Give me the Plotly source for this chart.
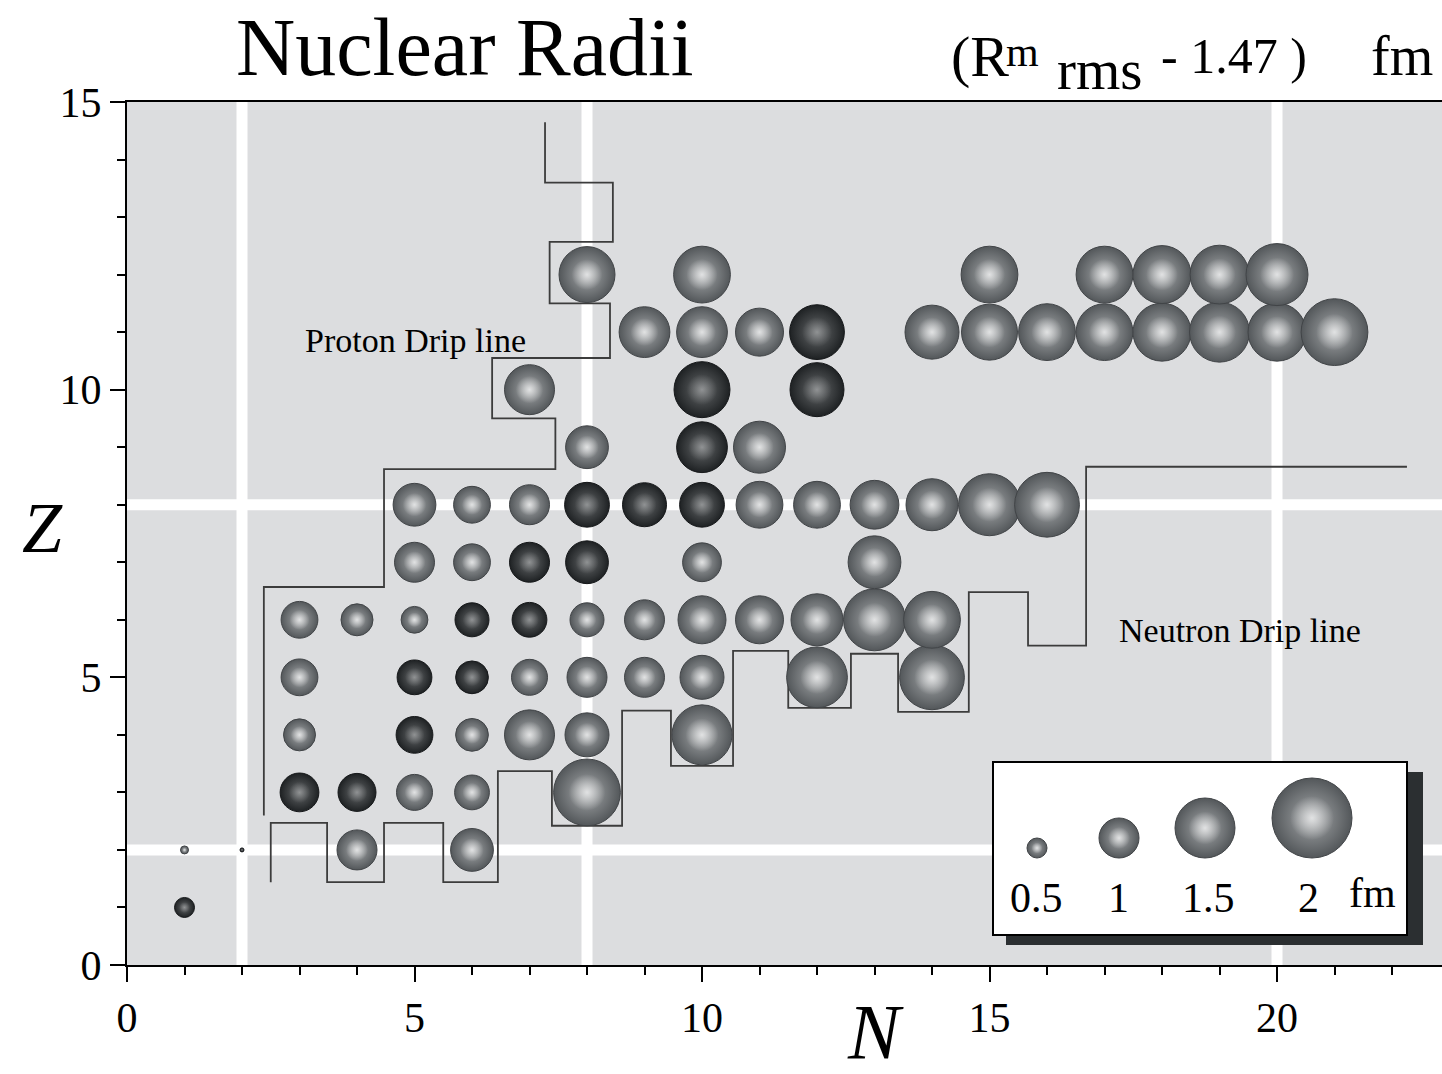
import plotly.graph_objects as go

# ---------------- data ----------------
# Each nuclide: neutron number N, proton number Z, (R_rms^m - 1.47) in fm, stable (dark) flag
N_VALS = [1, 1, 2, 4, 6,
          3, 4, 5, 6, 8,
          3, 5, 6, 7, 8, 10,
          3, 5, 6, 7, 8, 9, 10, 12, 14,
          3, 4, 5, 6, 7, 8, 9, 10, 11, 12, 13, 14,
          5, 6, 7, 8, 10, 13,
          5, 6, 7, 8, 9, 10, 11, 12, 13, 14, 15, 16,
          8, 10, 11,
          7, 10, 12,
          9, 10, 11, 12, 14, 15, 16, 17, 18, 19, 20, 21,
          8, 10, 15, 17, 18, 19, 20]
Z_VALS = [1, 2, 2, 2, 2,
          3, 3, 3, 3, 3,
          4, 4, 4, 4, 4, 4,
          5, 5, 5, 5, 5, 5, 5, 5, 5,
          6, 6, 6, 6, 6, 6, 6, 6, 6, 6, 6, 6,
          7, 7, 7, 7, 7, 7,
          8, 8, 8, 8, 8, 8, 8, 8, 8, 8, 8, 8,
          9, 9, 9,
          10, 10, 10,
          11, 11, 11, 11, 11, 11, 11, 11, 11, 11, 11, 11,
          12, 12, 12, 12, 12, 12, 12]
RADIUS = [0.5, 0.2, 0.1, 1.0, 1.07,
          0.97, 0.95, 0.9, 0.87, 1.67,
          0.8, 0.92, 0.82, 1.25, 1.1, 1.5,
          0.92, 0.87, 0.82, 0.9, 1.0, 1.0, 1.1, 1.52, 1.62,
          0.92, 0.8, 0.67, 0.85, 0.87, 0.85, 1.0, 1.2, 1.2, 1.3, 1.55, 1.42,
          1.0, 0.92, 1.0, 1.07, 0.97, 1.32,
          1.07, 0.92, 1.0, 1.12, 1.1, 1.12, 1.17, 1.17, 1.22, 1.3, 1.55, 1.62,
          1.07, 1.27, 1.3,
          1.25, 1.4, 1.35,
          1.27, 1.27, 1.2, 1.37, 1.35, 1.4, 1.42, 1.42, 1.45, 1.5, 1.45, 1.67,
          1.4, 1.42, 1.42, 1.42, 1.45, 1.47, 1.55]
STABLE = [1, 0, 1, 0, 0,
          1, 1, 0, 0, 0,
          0, 1, 0, 0, 0, 0,
          0, 1, 1, 0, 0, 0, 0, 0, 0,
          0, 0, 0, 1, 1, 0, 0, 0, 0, 0, 0, 0,
          0, 0, 1, 1, 0, 0,
          0, 0, 0, 1, 1, 1, 0, 0, 0, 0, 0, 0,
          0, 1, 0,
          0, 1, 1,
          0, 0, 0, 1, 0, 0, 0, 0, 0, 0, 0, 0,
          0, 0, 0, 0, 0, 0, 0]

PROTON_DRIP_N = [7.27, 7.27, 8.45, 8.45, 7.35, 7.35, 8.4, 8.4, 6.35, 6.35, 7.45, 7.45, 4.47, 4.47, 2.38, 2.38]
PROTON_DRIP_Z = [14.65, 13.6, 13.6, 12.57, 12.57, 11.5, 11.5, 10.55, 10.55, 9.5, 9.5, 8.62, 8.62, 6.57, 6.57, 2.6]

NEUTRON_DRIP_N = [2.5, 2.5, 3.48, 3.48, 4.47, 4.47, 5.5, 5.5, 6.45, 6.45, 7.39, 7.39, 8.61, 8.61,
                  9.46, 9.46, 10.54, 10.54, 11.5, 11.5, 12.59, 12.59, 13.41, 13.41, 14.64, 14.64,
                  15.67, 15.67, 16.68, 16.68, 22.26]
NEUTRON_DRIP_Z = [1.44, 2.47, 2.47, 1.44, 1.44, 2.47, 2.47, 1.44, 1.44, 3.37, 3.37, 2.42, 2.42, 4.42,
                  4.42, 3.46, 3.46, 5.46, 5.46, 4.47, 4.47, 5.41, 5.41, 4.40, 4.40, 6.48, 6.48,
                  5.55, 5.55, 8.66, 8.66]

MAGIC = [2, 8, 20]
LEGEND_VALUES = [0.5, 1, 1.5, 2]

# ---------------- layout geometry ----------------
W, H = 1442, 1074
ML, MR, MT, MB = 127, 0, 102, 109
PX_PER_UNIT = 57.5
XMAX = (W - ML - MR) / PX_PER_UNIT
YMAX = 15
PX_PER_Z = (H - MT - MB) / YMAX
D_PER_FM = 40.0  # marker diameter in px per fm

def pxx(x):
    return (x - ML) / (W - ML - MR)

def pxy(y):
    return (H - MB - y) / (H - MT - MB)

def dx(x):
    return (x - ML) / PX_PER_UNIT

def dy(y):
    return (H - MB - y) / PX_PER_Z

SERIF = "Liberation Serif"

LIGHT_EDGE, LIGHT_CENTER, LIGHT_LINE = "#53575a", "#a6a9ab", "#414447"
DARK_EDGE, DARK_CENTER, DARK_LINE = "#1e2123", "#65686a", "#16181a"

fig = go.Figure()

# drip lines
fig.add_trace(go.Scatter(x=PROTON_DRIP_N, y=PROTON_DRIP_Z, mode="lines",
                         line=dict(color="#3c3c3c", width=1.8), hoverinfo="skip", showlegend=False))
fig.add_trace(go.Scatter(x=NEUTRON_DRIP_N, y=NEUTRON_DRIP_Z, mode="lines",
                         line=dict(color="#3c3c3c", width=1.8), hoverinfo="skip", showlegend=False))


def add_spheres(xs, ys, vals, dark):
    sizes = [D_PER_FM * v for v in vals]
    edge = [DARK_EDGE if d else LIGHT_EDGE for d in dark]
    center = [DARK_CENTER if d else LIGHT_CENTER for d in dark]
    lcol = [DARK_LINE if d else LIGHT_LINE for d in dark]
    fig.add_trace(go.Scatter(
        x=xs, y=ys, mode="markers", hoverinfo="skip", showlegend=False, cliponaxis=False,
        marker=dict(size=sizes, color=edge, opacity=1,
                    gradient=dict(type="radial", color=center),
                    line=dict(width=1, color=lcol))))
    hl = ["rgba(255,255,255,0.4)" if d else "rgba(255,255,255,0.95)" for d in dark]
    fig.add_trace(go.Scatter(
        x=xs, y=ys, mode="markers", hoverinfo="skip", showlegend=False, cliponaxis=False,
        marker=dict(size=[s * 0.55 for s in sizes], color="rgba(255,255,255,0)",
                    gradient=dict(type="radial", color=hl),
                    line=dict(width=0))))


add_spheres(N_VALS, Z_VALS, RADIUS, STABLE)

# ---------------- size legend ----------------
LEG_X_PX = [1037, 1119, 1205, 1312]
LEG_BOTTOM_PX = 858
leg_x = [dx(p) for p in LEG_X_PX]
leg_y = [dy(LEG_BOTTOM_PX) + (D_PER_FM * v / 2) / PX_PER_Z for v in LEGEND_VALUES]
add_spheres(leg_x, leg_y, LEGEND_VALUES, [0] * len(LEGEND_VALUES))

shapes = []
for m in MAGIC:
    if m <= XMAX:
        shapes.append(dict(type="line", xref="x", yref="y", x0=m, x1=m, y0=0, y1=YMAX,
                           line=dict(color="white", width=11), layer="below"))
    if m <= YMAX:
        shapes.append(dict(type="line", xref="x", yref="y", x0=0, x1=XMAX, y0=m, y1=m,
                           line=dict(color="white", width=11), layer="below"))
# legend shadow + box
shapes.append(dict(type="rect", xref="x", yref="y", x0=dx(1006), x1=dx(1423), y0=dy(945), y1=dy(772),
                   fillcolor="#2b2f31", line=dict(width=0), layer="below"))
shapes.append(dict(type="rect", xref="x", yref="y", x0=dx(993), x1=dx(1407), y0=dy(935), y1=dy(762),
                   fillcolor="white", line=dict(color="black", width=2), layer="below"))


def ann(text, x, y, size, xanchor="center", italic=False):
    return dict(text=f"<i>{text}</i>" if italic else text, x=pxx(x), y=pxy(y),
                xref="paper", yref="paper", showarrow=False, xanchor=xanchor, yanchor="middle",
                font=dict(family=SERIF, size=size, color="black"))


annotations = [
    ann("Nuclear Radii", 465, 47, 82),
    # right-hand unit label: (R^m_rms - 1.47 )  fm
    ann("(R", 949, 56, 58, "left"),
    ann("m", 1004, 52, 42, "left"),
    ann("rms", 1055, 69, 57, "left"),
    ann("- 1.47 )", 1159, 56, 50, "left"),
    ann("fm", 1369, 56, 56, "left"),
    ann("Z", 42, 528, 72, italic=True),
    ann("N", 875, 1031, 78, italic=True),
    ann("Proton Drip line", 415, 340, 34),
    ann("Neutron Drip line", 1240, 630, 34),
]
LEG_LABEL_X_PX = [1036, 1118, 1208, 1308]
for v, p in zip(LEGEND_VALUES, LEG_LABEL_X_PX):
    annotations.append(ann(f"{v:g}", p, 898, 42))
annotations.append(ann("fm", 1372, 893, 42))

axis_common = dict(showgrid=False, zeroline=False, showline=True, linecolor="black", linewidth=2,
                   ticks="outside", ticklen=15, tickwidth=2, tickcolor="black",
                   tickfont=dict(family=SERIF, size=42, color="black"),
                   minor=dict(dtick=1, ticks="outside", ticklen=8, tickwidth=1.5,
                              tickcolor="black", showgrid=False))

fig.update_layout(
    width=W, height=H,
    margin=dict(l=ML, r=MR, t=MT, b=MB, pad=0),
    paper_bgcolor="white", plot_bgcolor="#dcdddf",
    showlegend=False,
    shapes=shapes, annotations=annotations,
    xaxis=dict(range=[0, XMAX], dtick=5, tick0=0, mirror=True, **axis_common),
    yaxis=dict(range=[0, YMAX], dtick=5, tick0=0, **axis_common),
)

fig.write_html("out.html", config={"displayModeBar": False},
               post_script="document.body.style.margin='0px';document.body.style.overflow='hidden';")
